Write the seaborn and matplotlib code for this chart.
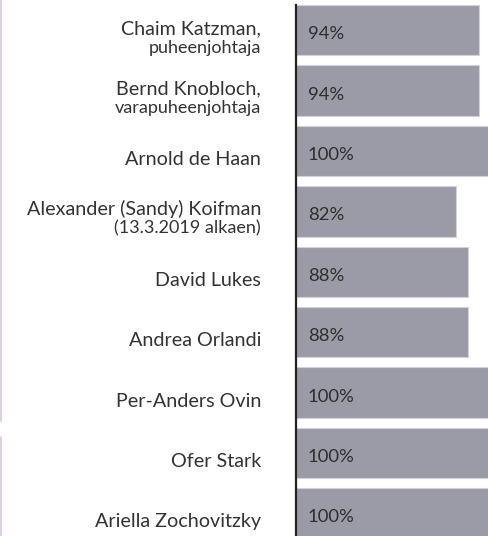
import matplotlib
matplotlib.use('Agg')
import matplotlib.pyplot as plt
import matplotlib.transforms as mtransforms
from matplotlib.lines import Line2D
import seaborn as sns
import pandas as pd

# board members and their meeting attendance
names = ['Chaim Katzman,', 'Bernd Knobloch,', 'Arnold de Haan',
         'Alexander (Sandy) Koifman', 'David Lukes', 'Andrea Orlandi',
         'Per-Anders Ovin', 'Ofer Stark', 'Ariella Zochovitzky']
roles = ['puheenjohtaja', 'varapuheenjohtaja', '', '(13.3.2019 alkaen)',
         '', '', '', '', '']
attendance = [94, 94, 100, 82, 88, 88, 100, 100, 100]

df = pd.DataFrame({'name': names, 'value': attendance})

sns.set_theme(style='white')
plt.rcParams['font.family'] = ['Lato', 'DejaVu Sans']

fig = plt.figure(figsize=(4.88, 5.36), dpi=100)
ax = fig.add_axes([296 / 488, 0, 192 / 488, 1])

sns.barplot(data=df, x='value', y='name', orient='h', color='#9a9ba6',
            saturation=1, width=0.836, edgecolor='#d2d3da', linewidth=0.8,
            ax=ax)

ax.set_xlim(0, 98.5)
ax.set_ylim(8.374, -0.5)
ax.set_xticks([])
ax.set_yticks([])
ax.set_xlabel('')
ax.set_ylabel('')
for side in ['top', 'right', 'bottom']:
    ax.spines[side].set_visible(False)
ax.spines['left'].set_color('#222222')
ax.spines['left'].set_linewidth(1.6)
ax.spines['left'].set_bounds(-0.42, 8.374)
ax.spines['left'].set_zorder(5)

trans = mtransforms.blended_transform_factory(fig.transFigure, ax.transData)
name_x = 261 / 488
pct_x = 308 / 488
for i, (n, r, v) in enumerate(zip(names, roles, attendance)):
    if r:
        ax.text(name_x, i + 0.066, n, transform=trans, ha='right',
                va='baseline', fontsize=14.2, color='#333333')
        ax.text(name_x, i + 0.37, r, transform=trans, ha='right',
                va='baseline', fontsize=13, color='#333333')
    else:
        ax.text(name_x, i + 0.232, n, transform=trans, ha='right',
                va='baseline', fontsize=14.2, color='#333333')
    ax.text(pct_x, i + 0.15, f'{v}%', transform=trans, ha='left',
            va='baseline', fontsize=13.3, color='#2e2e2e')

# thin lilac rule at the left edge
fig.add_artist(Line2D([0.5 / 488, 0.5 / 488], [1, 1 - 421 / 536],
                      transform=fig.transFigure, color='#d8c6e2', lw=1.2))
fig.add_artist(Line2D([0.5 / 488, 0.5 / 488], [1 - 437 / 536, 0],
                      transform=fig.transFigure, color='#d8c6e2', lw=1.2))

fig.savefig('out.png', dpi=100)
